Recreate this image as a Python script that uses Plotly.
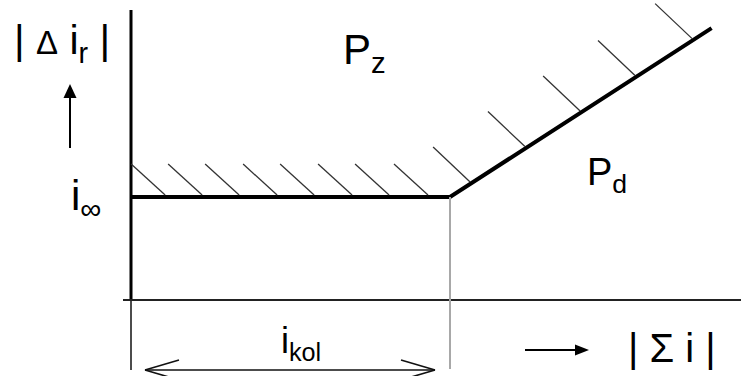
import numpy as np
import plotly.graph_objects as go

# ---------------- data (schematic units: i_kol = 1 on x, i_inf = 1 on y) -------------
i_kol = 1.0
i_inf = 1.0
curve_x = [0.0, 1.0, 1.82]
curve_y = [1.0, 1.0, 2.64]
hatch_flat_x = [0.107, 0.223, 0.339, 0.458, 0.574, 0.693, 0.809, 0.931]
hatch_slope_x = [1.063, 1.235, 1.408, 1.580, 1.759]

label_dir = "| <span style='font-size:33px'>Δ</span> i<sub>r</sub> |"
label_sum = "| Σ i |"
label_pz = "P<sub>z</sub>"
label_pd = "P<sub>d</sub>"
label_inf = "i<sub>∞</sub>"
label_kol = "i<sub>kol</sub>"

# ---------------- geometry helpers ------------------------------------------------------
W, H = 741, 376
OX, OY = 131, 300          # pixel position of origin
SX, SY = 319.0, 103.0      # pixels per unit


def px_x(p):
    return (p - OX) / SX


def px_y(p):
    return (OY - p) / SY


def dx(p):
    return p / SX


def dy(p):
    return -p / SY


FONT = "Liberation Sans, Arial, sans-serif"
fig = go.Figure()
shapes = []


def seg(x0, y0, x1, y1, w=1.2, color="#222"):
    shapes.append(dict(type="line", xref="x", yref="y", x0=x0, y0=y0, x1=x1, y1=y1,
                       line=dict(color=color, width=w), layer="above"))


# axes
seg(0, px_y(10), 0, 0, w=3, color="#000")
seg(0, 0, 0, px_y(370), w=1.5, color="#111")
seg(px_x(123), 0, px_x(741), 0, w=2, color="#222")
# vertical gray guide at i_kol
seg(i_kol, i_inf, i_kol, px_y(369), w=2, color="#a8a8a8")

# hatches
for hx in hatch_flat_x:
    y0 = i_inf
    seg(hx, y0 + dy(-2), hx + dx(-34), y0 + dy(-33), w=1.3, color="#333")
for hx in hatch_slope_x:
    y0 = float(np.interp(hx, curve_x, curve_y))
    seg(hx, y0 + dy(-2), hx + dx(-37), y0 + dy(-37), w=1.3, color="#333")

# main characteristic
fig.add_trace(go.Scatter(x=curve_x, y=curve_y, mode="lines",
                         line=dict(color="#000", width=4), hoverinfo="skip"))

# up arrow
ax_ = px_x(70)
seg(ax_, px_y(148), ax_, px_y(95), w=2, color="#000")
shapes.append(dict(type="path", xref="x", yref="y",
                   path=f"M {ax_},{px_y(84)} L {ax_ + dx(6.5)},{px_y(98)} L {ax_ - dx(6.5)},{px_y(98)} Z",
                   fillcolor="#000", line=dict(width=0)))
# right arrow
ay_ = px_y(350)
seg(px_x(525), ay_, px_x(578), ay_, w=2, color="#000")
shapes.append(dict(type="path", xref="x", yref="y",
                   path=f"M {px_x(589)},{ay_} L {px_x(575)},{ay_ + dy(-5.5)} L {px_x(575)},{ay_ + dy(5.5)} Z",
                   fillcolor="#000", line=dict(width=0)))
# double arrow (open heads) spanning i_kol
by = px_y(370)
xl, xr = px_x(145), px_x(435)
seg(xl, by, xr, by, w=1.6, color="#111")
for sgn in (-1, 1):
    seg(xl, by, xl + dx(34), by + dy(10 * sgn), w=1.6, color="#111")
    seg(xr, by, xr - dx(34), by + dy(10 * sgn), w=1.6, color="#111")

fig.update_layout(shapes=shapes)


def label(text, xp, yp, size):
    fig.add_annotation(x=px_x(xp), y=px_y(yp), xref="x", yref="y", text=text,
                       showarrow=False, xanchor="left", yanchor="middle",
                       font=dict(family=FONT, size=size, color="#000"))


label(label_dir, 12, 43, 41)
label(label_pz, 341, 52, 42)
label(label_pd, 585, 175, 38)
label(label_inf, 69, 198, 42)
label(label_kol, 279, 343, 36)
label(label_sum, 626, 348, 40)

fig.update_layout(
    width=W, height=H,
    margin=dict(l=0, r=0, t=0, b=0),
    paper_bgcolor="white", plot_bgcolor="white",
    showlegend=False,
    xaxis=dict(range=[px_x(0), px_x(W)], visible=False, fixedrange=True),
    yaxis=dict(range=[px_y(H), px_y(0)], visible=False, fixedrange=True),
)
fig.write_html("out.html", config={"displayModeBar": False},
               post_script="document.body.style.margin='0';document.body.style.overflow='hidden';")
